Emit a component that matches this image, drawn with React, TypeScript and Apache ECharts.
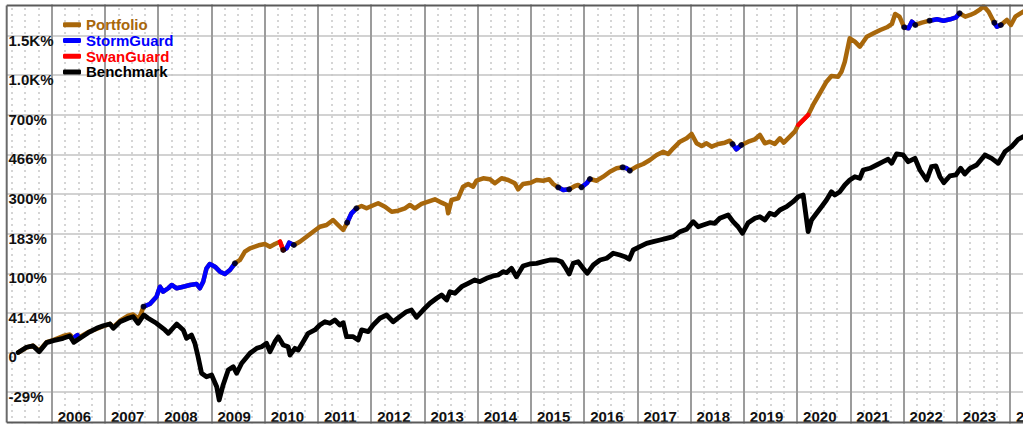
import React, { useEffect, useRef } from 'react';
import * as echarts from 'echarts';

// Growth in percent since inception
const portfolio: [string, number][] = [
  ['2005-05-16', 0], ['2005-07-12', 4.5], ['2005-08-26', 6.2], ['2005-10-07', 1.5], ['2005-11-27', 9.5],
  ['2006-01-11', 11.5], ['2006-03-20', 15.5], ['2006-05-05', 17.0], ['2006-06-02', 13.0], ['2006-06-12', 15.0],
  ['2006-06-26', 16.5], ['2006-07-13', 14.5], ['2006-09-08', 19.5], ['2006-11-04', 22.8], ['2006-12-20', 25.8],
  ['2007-02-04', 28.5], ['2007-02-27', 24.8], ['2007-04-14', 32.0], ['2007-06-09', 38.0], ['2007-07-13', 39.5],
  ['2007-08-16', 35.0], ['2007-09-01', 38.5], ['2007-09-22', 49.3], ['2007-11-05', 52.8], ['2007-12-20', 62.9],
  ['2008-01-13', 77.8], ['2008-02-04', 70.2], ['2008-03-10', 75.4], ['2008-04-03', 80.5], ['2008-05-07', 75.4],
  ['2008-06-21', 77.8], ['2008-08-06', 80.5], ['2008-09-21', 82.1], ['2008-10-13', 75.4], ['2008-11-05', 85.8],
  ['2008-11-28', 108.9], ['2008-12-21', 116.9], ['2009-01-25', 111.8], ['2009-02-28', 102.8], ['2009-04-03', 98.7],
  ['2009-05-08', 105.8], ['2009-06-11', 118.2], ['2009-07-15', 124.6], ['2009-08-18', 141.5], ['2009-09-22', 148.8],
  ['2009-10-26', 152.3], ['2009-11-29', 156.1], ['2010-01-02', 158.3], ['2010-02-06', 152.3], ['2010-03-12', 158.3],
  ['2010-04-16', 163.6], ['2010-05-08', 145.1], ['2010-05-31', 148.8], ['2010-06-18', 161.3], ['2010-07-20', 156.1],
  ['2010-08-30', 163.6], ['2010-10-15', 175.4], ['2010-11-29', 187.7], ['2011-01-14', 200.5], ['2011-03-01', 205.0],
  ['2011-04-15', 218.7], ['2011-05-19', 205.0], ['2011-06-23', 192.0], ['2011-07-20', 211.2], ['2011-08-19', 237.9],
  ['2011-09-22', 253.0], ['2011-10-27', 260.2], ['2011-11-30', 253.0], ['2012-01-04', 260.2], ['2012-02-18', 268.8],
  ['2012-04-05', 258.0], ['2012-05-21', 242.7], ['2012-07-05', 245.7], ['2012-08-20', 253.0], ['2012-09-23', 263.4],
  ['2012-10-27', 253.0], ['2012-12-12', 266.6], ['2013-01-27', 274.0], ['2013-03-14', 282.0], ['2013-04-29', 270.8],
  ['2013-06-03', 263.4], ['2013-06-13', 237.9], ['2013-07-06', 279.6], ['2013-08-20', 285.3], ['2013-09-23', 326.5],
  ['2013-10-28', 336.6], ['2013-12-01', 326.5], ['2013-12-24', 349.4], ['2014-02-08', 359.0], ['2014-03-26', 355.0],
  ['2014-04-29', 339.3], ['2014-06-14', 359.0], ['2014-07-29', 352.2], ['2014-09-13', 339.3], ['2014-10-06', 316.9],
  ['2014-11-08', 336.6], ['2014-12-31', 341.6], ['2015-02-09', 352.2], ['2015-03-26', 349.4], ['2015-05-06', 355.0],
  ['2015-06-03', 336.6], ['2015-07-07', 324.2], ['2015-08-11', 314.3], ['2015-09-21', 316.9], ['2015-10-30', 329.1],
  ['2015-11-21', 332.9], ['2015-12-14', 324.2], ['2016-01-18', 339.3], ['2016-02-10', 356.2], ['2016-03-27', 349.4],
  ['2016-05-11', 365.4], ['2016-06-26', 386.2], ['2016-08-11', 400.9], ['2016-09-21', 405.3], ['2016-10-19', 400.9],
  ['2016-11-10', 390.5], ['2016-12-26', 408.0], ['2017-02-10', 420.1], ['2017-03-28', 438.6], ['2017-05-13', 462.7],
  ['2017-06-27', 479.2], ['2017-07-31', 467.7], ['2017-09-04', 496.7], ['2017-10-20', 532.1], ['2017-12-05', 551.2],
  ['2018-01-08', 576.2], ['2018-02-11', 523.4], ['2018-03-17', 508.8], ['2018-04-20', 523.4], ['2018-05-25', 505.1],
  ['2018-07-09', 519.6], ['2018-08-24', 526.6], ['2018-09-27', 537.7], ['2018-10-15', 519.6], ['2018-11-11', 491.5],
  ['2018-12-15', 514.1], ['2019-01-31', 532.1], ['2019-03-18', 545.6], ['2019-04-21', 570.3], ['2019-05-25', 523.4],
  ['2019-06-28', 532.1], ['2019-08-01', 519.6], ['2019-09-05', 551.2], ['2019-10-02', 526.6], ['2019-11-12', 560.4],
  ['2019-12-16', 589.9], ['2020-01-09', 631.6], ['2020-02-12', 664.3], ['2020-03-17', 698.5], ['2020-04-20', 771.5],
  ['2020-06-05', 865.4], ['2020-07-21', 968.5], ['2020-08-24', 1023.1], ['2020-10-09', 1016.3], ['2020-11-01', 1066.2],
  ['2020-11-24', 1172.7], ['2020-12-28', 1462.0], ['2021-02-01', 1416.2], ['2021-03-07', 1351.3], ['2021-04-24', 1484.0],
  ['2021-06-09', 1531.8], ['2021-07-25', 1579.6], ['2021-09-09', 1619.7], ['2021-10-13', 1670.0], ['2021-11-04', 1831.7],
  ['2021-12-04', 1786.6], ['2022-01-05', 1619.7], ['2022-02-04', 1604.8], ['2022-02-27', 1706.0], ['2022-03-22', 1654.6],
  ['2022-05-07', 1690.2], ['2022-06-28', 1721.8], ['2022-08-18', 1744.3], ['2022-10-02', 1721.8], ['2022-11-16', 1744.3],
  ['2022-12-27', 1776.9], ['2023-01-20', 1843.6], ['2023-02-28', 1786.6], ['2023-04-03', 1814.9], ['2023-05-07', 1853.8],
  ['2023-06-10', 1912.8], ['2023-07-03', 1971.7], ['2023-08-07', 1871.0], ['2023-09-15', 1690.2], ['2023-10-03', 1628.8],
  ['2023-10-30', 1654.6], ['2023-12-10', 1733.0], ['2024-01-07', 1654.6], ['2024-02-06', 1786.6], ['2024-04-01', 1871.0],
];

const benchmark: [string, number][] = [
  ['2005-05-16', 0], ['2005-07-12', 4.7], ['2005-08-26', 5.9], ['2005-10-07', 0.7], ['2005-11-27', 9.0],
  ['2006-01-11', 10.9], ['2006-03-20', 13.2], ['2006-05-05', 15.5], ['2006-06-02', 9.3], ['2006-07-13', 13.2],
  ['2006-09-08', 18.9], ['2006-11-04', 23.6], ['2006-12-20', 26.4], ['2007-02-04', 28.3], ['2007-02-27', 23.6],
  ['2007-04-14', 30.9], ['2007-06-09', 34.9], ['2007-07-13', 36.8], ['2007-08-16', 29.1], ['2007-09-24', 38.8],
  ['2007-10-24', 34.9], ['2007-12-20', 29.1], ['2008-02-16', 21.8], ['2008-03-10', 18.3], ['2008-05-07', 28.3],
  ['2008-06-21', 21.8], ['2008-07-14', 13.2], ['2008-08-17', 16.5], ['2008-09-09', 8.4], ['2008-10-01', -3.6],
  ['2008-10-25', -16.6], ['2008-11-28', -19.1], ['2009-01-02', -17.9], ['2009-02-06', -25.9], ['2009-02-23', -34.0],
  ['2009-03-22', -24.7], ['2009-04-26', -14.2], ['2009-05-30', -11.7], ['2009-06-23', -16.6], ['2009-07-27', -9.0],
  ['2009-09-22', -0.7], ['2009-11-07', 3.7], ['2009-12-11', 5.2], ['2010-01-14', 8.4], ['2010-02-06', 0.7],
  ['2010-03-12', 9.9], ['2010-04-04', 14.8], ['2010-05-08', 6.8], ['2010-06-11', 5.2], ['2010-06-23', -2.2],
  ['2010-07-27', 3.7], ['2010-08-19', 2.2], ['2010-09-22', 9.9], ['2010-10-26', 18.3], ['2010-12-11', 21.8],
  ['2011-01-14', 27.2], ['2011-02-18', 30.9], ['2011-03-24', 29.1], ['2011-04-27', 32.9], ['2011-05-31', 27.2],
  ['2011-06-23', 29.8], ['2011-07-16', 14.8], ['2011-08-31', 14.8], ['2011-10-04', 11.6], ['2011-10-27', 21.8],
  ['2011-12-12', 20.0], ['2012-01-15', 27.2], ['2012-03-01', 34.9], ['2012-04-16', 38.8], ['2012-05-31', 30.9],
  ['2012-07-16', 36.8], ['2012-08-31', 42.9], ['2012-10-04', 45.0], ['2012-11-08', 36.1], ['2012-12-23', 45.0],
  ['2013-02-08', 53.8], ['2013-03-26', 60.7], ['2013-04-29', 65.4], ['2013-06-03', 58.3], ['2013-06-25', 70.2],
  ['2013-07-29', 67.8], ['2013-09-13', 77.8], ['2013-10-28', 83.2], ['2013-12-13', 88.6], ['2014-01-16', 85.8],
  ['2014-03-03', 91.4], ['2014-04-17', 95.3], ['2014-05-21', 97.0], ['2014-06-24', 102.8], ['2014-07-18', 101.0],
  ['2014-08-21', 108.9], ['2014-09-24', 94.1], ['2014-11-08', 113.1], ['2014-12-24', 116.9], ['2015-02-09', 118.2],
  ['2015-03-26', 121.3], ['2015-05-11', 124.6], ['2015-06-26', 124.6], ['2015-07-30', 121.3], ['2015-08-29', 108.9],
  ['2015-09-21', 98.7], ['2015-10-18', 118.2], ['2015-11-21', 121.3], ['2015-12-25', 108.9], ['2016-01-22', 99.9],
  ['2016-03-04', 115.0], ['2016-04-19', 124.6], ['2016-06-04', 128.0], ['2016-07-19', 138.2], ['2016-09-03', 134.6],
  ['2016-10-07', 131.2], ['2016-11-06', 126.0], ['2016-12-03', 145.1], ['2017-01-18', 152.3], ['2017-03-05', 159.9],
  ['2017-04-20', 163.6], ['2017-06-05', 167.5], ['2017-07-20', 171.5], ['2017-09-04', 175.4], ['2017-10-20', 187.7],
  ['2017-12-05', 193.8], ['2018-01-19', 214.0], ['2018-02-22', 200.5], ['2018-03-28', 205.0], ['2018-05-13', 211.2],
  ['2018-06-16', 209.6], ['2018-07-20', 223.5], ['2018-09-15', 232.9], ['2018-10-19', 214.0], ['2018-11-22', 200.5],
  ['2018-12-22', 183.7], ['2019-01-31', 211.2], ['2019-03-18', 223.5], ['2019-04-21', 228.0], ['2019-05-25', 218.7],
  ['2019-06-28', 237.9], ['2019-08-01', 232.9], ['2019-09-05', 247.8], ['2019-10-21', 258.0], ['2019-12-05', 274.0],
  ['2020-01-09', 290.7], ['2020-02-12', 296.6], ['2020-03-17', 187.7], ['2020-04-09', 218.7], ['2020-05-14', 237.9],
  ['2020-06-17', 258.0], ['2020-07-21', 279.6], ['2020-08-24', 308.2], ['2020-09-16', 296.6], ['2020-10-21', 308.2],
  ['2020-11-24', 332.9], ['2020-12-28', 352.2], ['2021-02-01', 365.4], ['2021-03-07', 359.0], ['2021-03-30', 393.5],
  ['2021-05-15', 400.9], ['2021-06-30', 415.6], ['2021-08-14', 430.7], ['2021-09-17', 442.0], ['2021-10-11', 423.3],
  ['2021-11-14', 467.7], ['2021-12-29', 462.7], ['2022-02-02', 430.7], ['2022-03-20', 446.7], ['2022-04-23', 393.5],
  ['2022-06-08', 352.2], ['2022-07-12', 408.0], ['2022-08-11', 411.1], ['2022-09-07', 365.4], ['2022-10-04', 341.6],
  ['2022-11-14', 368.3], ['2022-12-25', 372.4], ['2023-01-27', 400.9], ['2023-02-25', 376.6], ['2023-04-01', 400.9],
  ['2023-05-17', 415.6], ['2023-07-13', 462.7], ['2023-08-28', 446.7], ['2023-10-12', 423.3], ['2023-11-27', 479.2],
  ['2024-01-12', 505.1], ['2024-02-26', 545.6], ['2024-04-01', 560.4],
];

const stormGuardPeriods: [string, string][] = [
  ['2006-06-12', '2006-06-26'], ['2007-09-22', '2009-06-11'], ['2010-05-08', '2010-07-20'],
  ['2011-07-20', '2011-09-22'], ['2015-07-07', '2015-09-21'], ['2015-12-14', '2016-02-10'],
  ['2016-09-21', '2016-11-10'], ['2018-10-15', '2018-12-15'], ['2022-01-05', '2022-03-22'],
  ['2022-06-28', '2023-01-20'], ['2023-09-15', '2023-10-30'],
];

const swanGuardPeriods: [string, string][] = [
  ['2010-04-16', '2010-05-08'], ['2020-01-09', '2020-03-17'],
];

const signalDates: string[] = [
  '2007-09-22', '2009-06-11', '2010-05-08', '2010-07-20', '2011-07-20', '2011-09-22',
  '2015-07-07', '2015-09-21', '2015-12-14', '2016-02-10', '2016-09-21', '2016-11-10',
  '2018-10-15', '2018-12-15', '2022-01-05', '2022-03-22', '2022-06-28', '2023-01-20',
  '2023-09-15', '2023-10-30',
];

const yTickLabels = ['-29%', '0', '41.4%', '100%', '183%', '300%', '466%', '700%', '1.0K%', '1.5K%'];
const seriesNames = ['Portfolio', 'StormGuard', 'SwanGuard', 'Benchmark'];
const seriesColors = ['#a8670b', '#0000ff', '#ff0000', '#000000'];

const FONT = '"Liberation Sans", Arial, Helvetica, sans-serif';

function yearFrac(d: string): number {
  const [y, m, day] = d.split('-').map(Number);
  const start = Date.UTC(y, 0, 1);
  const end = Date.UTC(y + 1, 0, 1);
  return y + (Date.UTC(y, m - 1, day) - start) / (end - start);
}
const toLog = (pct: number) => Math.log2(1 + pct / 100);
const pt = ([d, v]: [string, number]) => [yearFrac(d), toLog(v)];

function segments(periods: [string, string][]) {
  const out: any[] = [];
  periods.forEach(([s, e], i) => {
    if (i > 0) out.push([yearFrac(s) - 0.001, null]);
    portfolio.filter(([d]) => d >= s && d <= e).forEach((p) => out.push(pt(p)));
  });
  return out;
}

export default function App() {
  const ref = useRef<HTMLDivElement>(null);
  useEffect(() => {
    if (!ref.current) return;
    const chart = echarts.init(ref.current, undefined, { renderer: 'svg' });
    const lineBase = {
      type: 'line',
      showSymbol: false,
      symbol: 'none',
      connectNulls: false,
      clip: true,
    };
    const option: any = {
      animation: false,
      backgroundColor: '#ffffff',
      textStyle: { fontFamily: FONT },
      grid: { left: 18.5, right: 36.7, top: 15.9, bottom: 18.26, containLabel: false },
      legend: {
        orient: 'vertical',
        left: 83,
        top: 37,
        padding: 0,
        itemGap: 0,
        itemWidth: 18,
        itemHeight: 5,
        icon: 'roundRect',
        selectedMode: false,
        textStyle: { fontSize: 15, fontWeight: 'bold', fontFamily: FONT, lineHeight: 15.7 },
        data: seriesNames.map((n, i) => ({ name: n, textStyle: { color: seriesColors[i] } })),
      },
      xAxis: [
        {
          type: 'value',
          min: 2005,
          max: 2025,
          interval: 1,
          axisLine: { show: false },
          axisTick: { show: false },
          splitLine: { show: true, lineStyle: { color: '#9c9c9c', width: 2 } },
          axisLabel: {
            inside: true,
            margin: 9,
            interval: 0,
            align: 'left',
            lineHeight: 12,
            padding: [0, 0, 0, 6],
            fontSize: 15,
            fontWeight: 'bold',
            color: '#111',
            fontFamily: FONT,
            formatter: (v: number) => (v >= 2006 && v <= 2024 ? String(v) : ''),
          },
        },
        {
          type: 'value',
          min: 2005,
          max: 2025,
          interval: 0.25,
          axisLine: { show: false },
          axisTick: { show: false },
          axisLabel: { show: false },
          splitLine: {
            show: true,
            lineStyle: { color: ['rgba(0,0,0,0)', '#c8c8c8', '#c8c8c8', '#c8c8c8'], width: 1.5, type: [2, 4] },
          },
        },
      ],
      yAxis: {
        type: 'value',
        min: -1,
        max: 4.5,
        interval: 0.5,
        axisLine: { show: false },
        axisTick: { show: false },
        splitLine: { show: true, lineStyle: { color: '#d2d2d2', width: 2 } },
        axisLabel: {
          inside: true,
          margin: 10,
          align: 'left',
          verticalAlign: 'top',
          lineHeight: 9,
          fontSize: 15,
          fontWeight: 'bold',
          color: '#111',
          fontFamily: FONT,
          formatter: (v: number) => {
            const idx = Math.round((v + 0.5) / 0.5);
            return yTickLabels[idx] ?? '';
          },
        },
      },
      series: [
        { ...lineBase, name: seriesNames[0], color: seriesColors[0], z: 2, lineStyle: { width: 4.5, color: seriesColors[0], join: 'round', cap: 'round' }, data: portfolio.map(pt) },
        { ...lineBase, name: seriesNames[1], color: seriesColors[1], z: 3, lineStyle: { width: 4.5, color: seriesColors[1], join: 'round', cap: 'round' }, data: segments(stormGuardPeriods) },
        { ...lineBase, name: seriesNames[2], color: seriesColors[2], z: 3, lineStyle: { width: 4.5, color: seriesColors[2], join: 'round', cap: 'round' }, data: segments(swanGuardPeriods) },
        { ...lineBase, name: seriesNames[3], color: seriesColors[3], z: 4, lineStyle: { width: 4.8, color: seriesColors[3], join: 'round', cap: 'round' }, data: benchmark.map(pt) },
        {
          type: 'scatter',
          name: 'signals',
          z: 5,
          symbolSize: 6,
          itemStyle: { color: '#000' },
          data: signalDates.map((d) => pt(portfolio.find(([pd]) => pd === d) as [string, number])),
        },
      ],
      graphic: [
        { type: 'rect', z: 100, shape: { x: 0, y: 0, width: 26, height: 470 }, style: { fill: '#fff' } },
        { type: 'rect', z: 100, shape: { x: 0, y: 0, width: 1120, height: 24.5 }, style: { fill: '#fff' } },
        { type: 'rect', z: 100, shape: { x: 0, y: 443.5, width: 1120, height: 30 }, style: { fill: '#fff' } },
        { type: 'line', z: 101, shape: { x1: 26.7, y1: 25.5, x2: 1120, y2: 25.5 }, style: { stroke: '#5a5a5a', lineWidth: 2 } },
        { type: 'line', z: 101, shape: { x1: 26.7, y1: 25.5, x2: 26.7, y2: 442.5 }, style: { stroke: '#6a6a6a', lineWidth: 2 } },
        { type: 'line', z: 101, shape: { x1: 26.7, y1: 442.5, x2: 1120, y2: 442.5 }, style: { stroke: '#5a5a5a', lineWidth: 2 } },
      ],
    };
    chart.setOption(option);
    return () => chart.dispose();
  }, []);

  return (
    <div style={{ position: 'fixed', left: 0, top: 0, width: 1023, height: 424, overflow: 'hidden', background: '#fff' }}>
      <div ref={ref} style={{ position: 'absolute', left: -20, top: -20, width: 1120, height: 470 }} />
    </div>
  );
}
